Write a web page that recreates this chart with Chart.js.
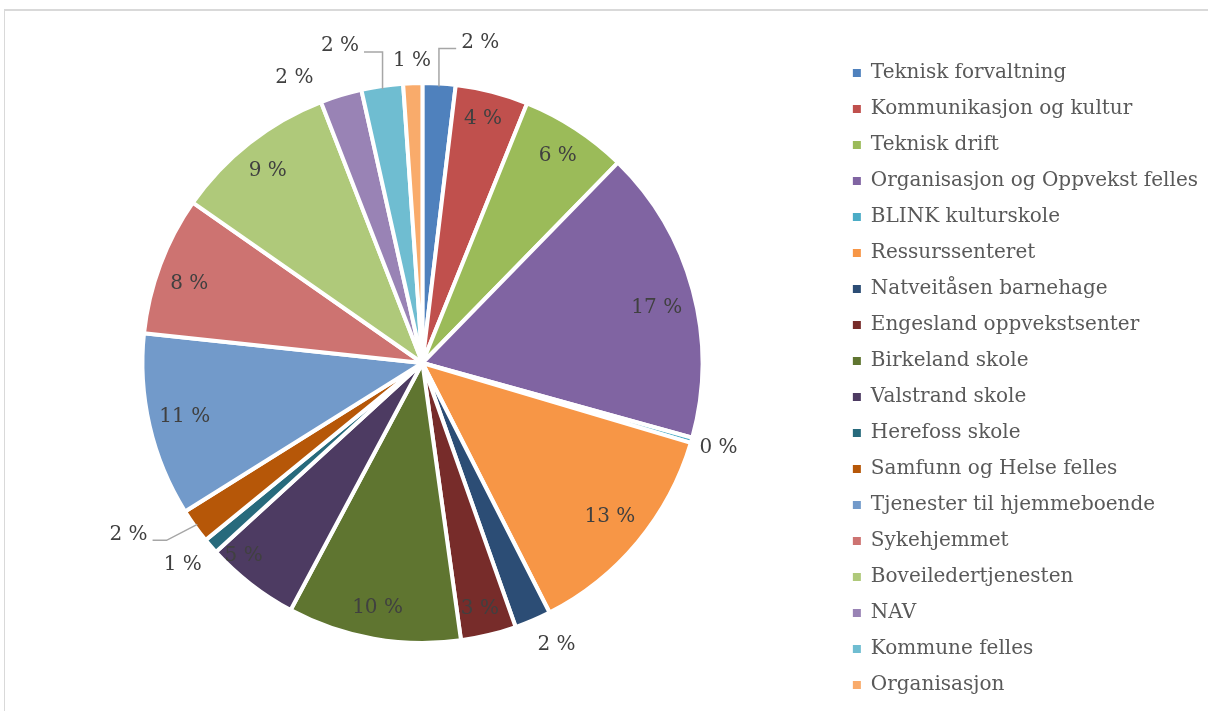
<!DOCTYPE html>
<html>
<head>
<meta charset="utf-8">
<script src="https://cdn.jsdelivr.net/npm/chart.js@4/dist/chart.umd.min.js"></script>
<style>
    body { margin: 0; background: #ffffff; overflow: hidden; }
    #frame { position: absolute; left: 4px; top: 9px; width: 1400px; height: 900px;
             border-top: 2px solid #d9d9d9; border-left: 1px solid #d9d9d9; }
    #wrap { position: absolute; left: 0; top: 0; width: 1208px; height: 711px; }
</style>
</head>
<body>
<div id="frame"></div>
<div id="wrap"><canvas id="chart"></canvas></div>
<script>
//chart data (share of total)
const categories = [
    "Teknisk forvaltning",
    "Kommunikasjon og kultur",
    "Teknisk drift",
    "Organisasjon og Oppvekst felles",
    "BLINK kulturskole",
    "Ressurssenteret",
    "Natveitåsen barnehage",
    "Engesland oppvekstsenter",
    "Birkeland skole",
    "Valstrand skole",
    "Herefoss skole",
    "Samfunn og Helse felles",
    "Tjenester til hjemmeboende",
    "Sykehjemmet",
    "Boveiledertjenesten",
    "NAV",
    "Kommune felles",
    "Organisasjon"
];
const shares = [1.9, 4.2, 6.2, 17.0, 0.3, 12.9, 2.1, 3.2, 10.0, 5.4, 0.9, 2.0, 10.6, 8.0, 9.4, 2.4, 2.4, 1.1];

const sliceColors = [
    "#4F81BD", "#C0504D", "#9BBB59", "#8064A2", "#4BACC6", "#F79646",
    "#2C4D75", "#772C2A", "#5F7530", "#4D3B62", "#276A7C", "#B65708",
    "#729ACA", "#CD7371", "#AFC97A", "#9983B5", "#6FBDD1", "#F9AB6B"
];

//label placement per slice: radius factor, angle nudge (deg), leader style
const labelPlace = [
    {r: 1.163, da: 6.8, leader: "v"},
    {r: 0.90, da: -0.5},
    {r: 0.885, da: 0},
    {r: 0.86, da: 1.8},
    {r: 1.10, da: 0},
    {r: 0.865, da: -0.5},
    {r: 1.115, da: -2.2},
    {r: 0.90, da: 0.5},
    {r: 0.89, da: 0.3},
    {r: 0.94, da: 5.0},
    {r: 1.12, da: 0.7},
    {r: 1.215, da: 5.4, leader: "d"},
    {r: 0.87, da: 0.3},
    {r: 0.88, da: -1.7},
    {r: 0.88, da: -0.7},
    {r: 1.115, da: -7.3},
    {r: 1.17, da: -6.3, leader: "v"},
    {r: 1.08, da: 0}
];

const FONT = "'DejaVu Serif', serif";

//draws the percentage labels and the leader lines
const sliceLabels = {
    id: "sliceLabels",
    afterDatasetsDraw(chart) {
        const ctx = chart.ctx;
        const meta = chart.getDatasetMeta(0);
        const total = shares.reduce((a, b) => a + b, 0);
        ctx.save();
        ctx.font = "20px " + FONT;
        ctx.fillStyle = "#404040";
        ctx.textAlign = "center";
        ctx.textBaseline = "middle";
        meta.data.forEach((arc, i) => {
            const p = arc.getProps(["x", "y", "startAngle", "endAngle", "outerRadius"], true);
            const place = labelPlace[i];
            const mid = (p.startAngle + p.endAngle) / 2;
            const ang = mid + place.da * Math.PI / 180;
            const lx = p.x + Math.cos(ang) * p.outerRadius * place.r;
            const ly = p.y + Math.sin(ang) * p.outerRadius * place.r;
            const text = Math.round(shares[i] / total * 100) + " %";
            ctx.fillText(text, lx, ly);

            if (place.leader) {
                const half = ctx.measureText(text).width / 2;
                const ex = p.x + Math.cos(mid) * (p.outerRadius - 3);
                const ey = p.y + Math.sin(mid) * (p.outerRadius - 3);
                const right = ex > lx;
                const sideX = right ? lx + half + 5 : lx - half - 5;
                const lineY = ly + 6;
                let elbowX = place.leader == "v" ? ex : (right ? sideX + 14 : sideX - 14);
                ctx.beginPath();
                ctx.strokeStyle = "#a6a6a6";
                ctx.lineWidth = 1.5;
                ctx.moveTo(ex, ey);
                ctx.lineTo(elbowX, lineY);
                ctx.lineTo(sideX, lineY);
                ctx.stroke();
            }
        });
        ctx.restore();
    }
};

new Chart(document.getElementById("chart"), {
    type: "pie",
    data: {
        labels: categories,
        datasets: [{
            data: shares,
            backgroundColor: sliceColors,
            borderColor: "#ffffff",
            borderWidth: 4
        }]
    },
    options: {
        responsive: true,
        maintainAspectRatio: false,
        animation: false,
        radius: 280,
        layout: {
            padding: {top: 15, left: 8, right: 0, bottom: 0}
        },
        plugins: {
            tooltip: {enabled: false},
            legend: {
                position: "right",
                align: "end",
                labels: {
                    boxWidth: 8,
                    boxHeight: 8,
                    padding: 16,
                    color: "#595959",
                    font: {family: FONT, size: 20},
                    generateLabels(chart) {
                        return categories.map((name, i) => ({
                            text: name,
                            fillStyle: sliceColors[i],
                            strokeStyle: sliceColors[i],
                            lineWidth: 0,
                            fontColor: "#595959",
                            index: i
                        }));
                    }
                }
            }
        }
    },
    plugins: [sliceLabels]
});
</script>
</body>
</html>
